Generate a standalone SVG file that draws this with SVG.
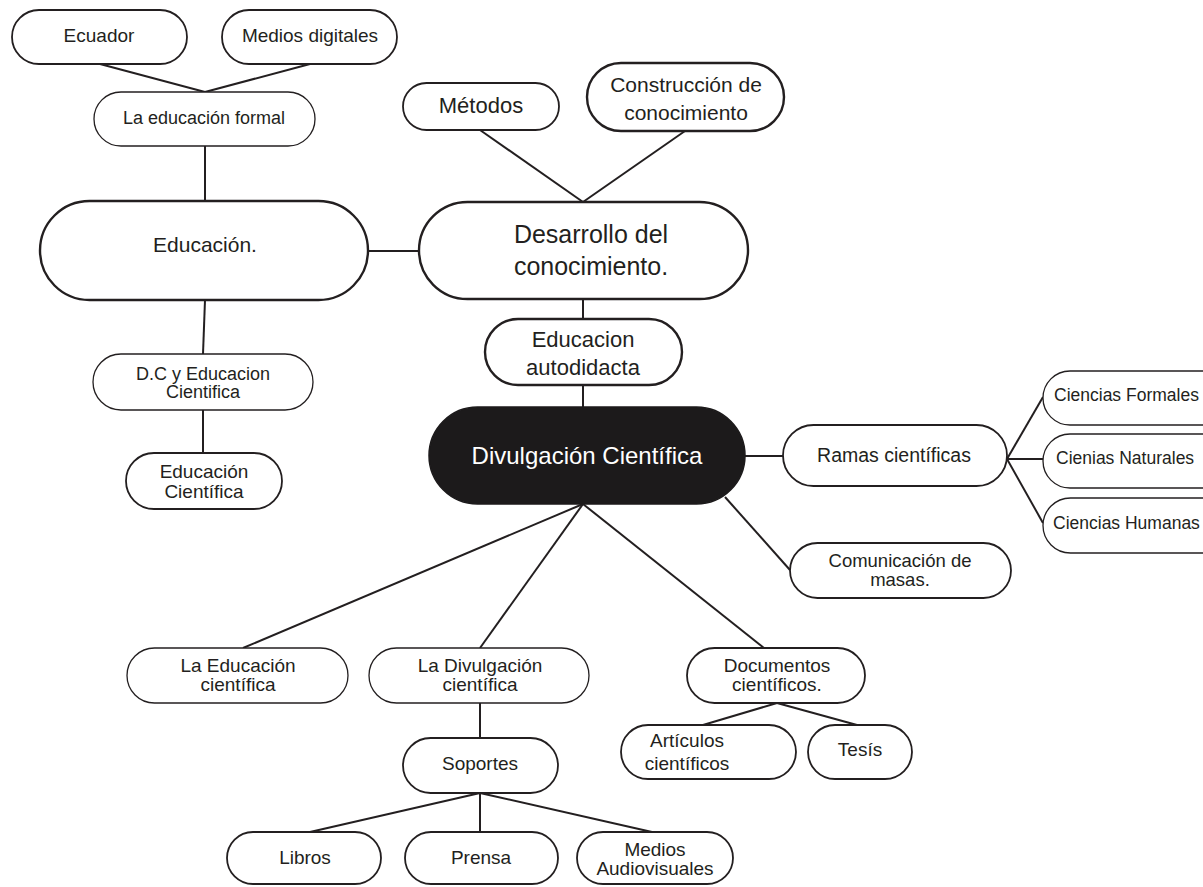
<svg xmlns="http://www.w3.org/2000/svg" width="1203" height="887" viewBox="0 0 1203 887">
<style>
.n{fill:#fff;stroke:#231f20;stroke-width:1.8}
.t{stroke-width:1.3}
.k{stroke-width:2.4}
.d{fill:#1c1a1b;stroke:#1c1a1b;stroke-width:1.5}
text{font-family:"Liberation Sans",Arial,sans-serif;fill:#231f20;text-anchor:middle;font-size:19px}
.w{fill:#fff}
.c{font-size:17.5px;text-anchor:start}
#connectors line{stroke:#231f20;stroke-width:2;fill:none}
</style>
<rect width="1203" height="887" fill="#fff"/>
<g id="connectors">
<line x1="100" y1="64" x2="205" y2="92"/>
<line x1="310" y1="64" x2="205" y2="92"/>
<line x1="205" y1="146" x2="205" y2="201"/>
<line x1="368" y1="251" x2="419" y2="251"/>
<line x1="205" y1="300" x2="203" y2="354"/>
<line x1="203" y1="410" x2="203" y2="453"/>
<line x1="480" y1="130" x2="583" y2="202"/>
<line x1="685" y1="131" x2="583" y2="202"/>
<line x1="583" y1="299" x2="583" y2="319"/>
<line x1="583" y1="385" x2="583" y2="407"/>
<line x1="745" y1="456" x2="783" y2="456"/>
<line x1="1007" y1="459" x2="1043" y2="397"/>
<line x1="1007" y1="459" x2="1043" y2="459"/>
<line x1="1007" y1="459" x2="1043" y2="523"/>
<line x1="725" y1="497" x2="790" y2="570"/>
<line x1="583" y1="504" x2="243" y2="648"/>
<line x1="583" y1="504" x2="480" y2="648"/>
<line x1="583" y1="504" x2="764" y2="648"/>
<line x1="777" y1="703" x2="703" y2="725"/>
<line x1="777" y1="703" x2="857" y2="725"/>
<line x1="480" y1="703" x2="480" y2="738"/>
<line x1="480" y1="793" x2="310" y2="832"/>
<line x1="480" y1="793" x2="480" y2="832"/>
<line x1="480" y1="793" x2="652" y2="832"/>
</g>
<g id="ecuador"><rect class="n" x="12" y="10" width="175" height="54" rx="27"/><text x="99" y="42">Ecuador</text></g>
<g id="medios-digitales"><rect class="n" x="222" y="10" width="175" height="54" rx="27"/><text x="310" y="42">Medios digitales</text></g>
<g id="educacion-formal"><rect class="n t" x="94" y="92" width="221" height="54" rx="27"/><text x="204" y="124" style="font-size:18px">La educación formal</text></g>
<g id="metodos"><rect class="n" x="403" y="83" width="156" height="47" rx="23.5"/><text x="481" y="113" style="font-size:22px">Métodos</text></g>
<g id="construccion"><rect class="n k" x="587" y="63" width="197" height="68" rx="34"/><text x="686" y="92" style="font-size:21px">Construcción de</text><text x="686" y="120" style="font-size:21px">conocimiento</text></g>
<g id="educacion"><rect class="n k" x="40" y="201" width="328" height="99" rx="49.5"/><text x="205" y="252" style="font-size:21px">Educación.</text></g>
<g id="desarrollo"><rect class="n k" x="419" y="202" width="329" height="97" rx="48.5"/><text x="591" y="243" style="font-size:25px">Desarrollo del</text><text x="591" y="275" style="font-size:25px">conocimiento.</text></g>
<g id="autodidacta"><rect class="n k" x="485" y="319" width="197" height="66" rx="33"/><text x="583" y="347" style="font-size:22px">Educacion</text><text x="583" y="375" style="font-size:22px">autodidacta</text></g>
<g id="dc-educacion"><rect class="n t" x="93" y="354" width="220" height="56" rx="28"/><text x="203" y="380" style="font-size:18px">D.C y Educacion</text><text x="203" y="398" style="font-size:18px">Cientifica</text></g>
<g id="educacion-cientifica"><rect class="n" x="126" y="453" width="156" height="56" rx="28"/><text x="204" y="478">Educación</text><text x="204" y="498">Científica</text></g>
<g id="divulgacion"><rect class="d" x="429" y="407" width="316" height="97" rx="48.5"/><text class="w" x="587" y="464" style="font-size:24px">Divulgación Científica</text></g>
<g id="ramas"><rect class="n" x="783" y="425" width="224" height="61" rx="30.5"/><text x="894" y="462" style="font-size:19.5px">Ramas científicas</text></g>
<g id="formales"><rect class="n t" x="1043" y="371" width="190" height="54" rx="27"/><text class="c" x="1054" y="401">Ciencias Formales</text></g>
<g id="naturales"><rect class="n t" x="1043" y="434" width="190" height="54" rx="27"/><text class="c" x="1056" y="464">Cienias Naturales</text></g>
<g id="humanas"><rect class="n t" x="1043" y="498" width="190" height="55" rx="27.5"/><text class="c" x="1053" y="529">Ciencias Humanas</text></g>
<g id="comunicacion"><rect class="n" x="790" y="543" width="221" height="55" rx="27.5"/><text x="900" y="567" style="font-size:18.5px">Comunicación de</text><text x="900" y="586" style="font-size:18.5px">masas.</text></g>
<g id="la-educacion"><rect class="n t" x="127" y="648" width="221" height="55" rx="27.5"/><text x="238" y="672">La Educación</text><text x="238" y="691">científica</text></g>
<g id="la-divulgacion"><rect class="n t" x="369" y="648" width="220" height="55" rx="27.5"/><text x="480" y="672">La Divulgación</text><text x="480" y="691">científica</text></g>
<g id="documentos"><rect class="n" x="687" y="648" width="178" height="55" rx="27.5"/><text x="777" y="672">Documentos</text><text x="777" y="691">científicos.</text></g>
<g id="articulos"><rect class="n" x="621" y="725" width="175" height="54" rx="27"/><text x="687" y="747">Artículos</text><text x="687" y="770">científicos</text></g>
<g id="tesis"><rect class="n" x="808" y="725" width="104" height="54" rx="27"/><text x="860" y="756">Tesís</text></g>
<g id="soportes"><rect class="n" x="403" y="738" width="155" height="55" rx="27.5"/><text x="480" y="770">Soportes</text></g>
<g id="libros"><rect class="n" x="227" y="832" width="154" height="52" rx="26"/><text x="305" y="864">Libros</text></g>
<g id="prensa"><rect class="n" x="405" y="832" width="153" height="52" rx="26"/><text x="481" y="864">Prensa</text></g>
<g id="medios-audiovisuales"><rect class="n" x="577" y="832" width="156" height="52" rx="26"/><text x="655" y="856">Medios</text><text x="655" y="875">Audiovisuales</text></g>
</svg>
